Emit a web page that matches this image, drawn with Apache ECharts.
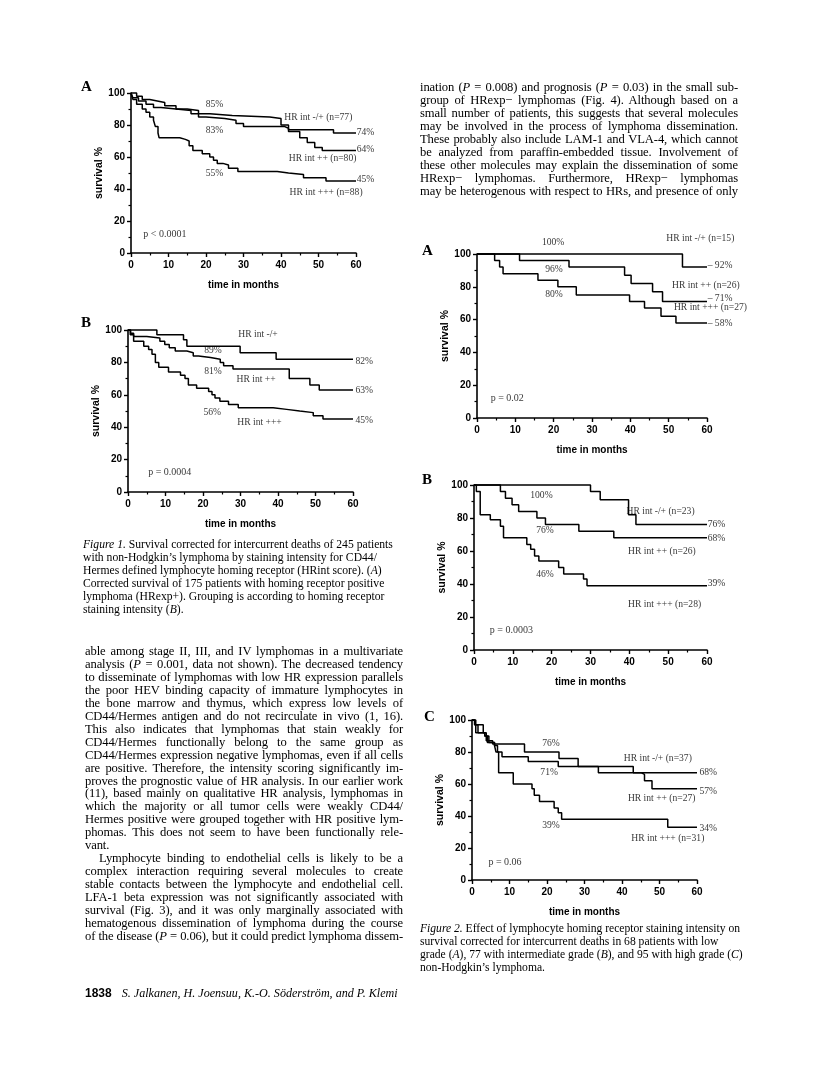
<!DOCTYPE html>
<html>
<head>
<meta charset="utf-8">
<script src="https://cdn.jsdelivr.net/npm/echarts@6/dist/echarts.min.js"></script>
<style>
html, body { margin: 0; padding: 0; background: #fff; }
#page { position: relative; width: 816px; height: 1078px; overflow: hidden; }
#chart { position: absolute; left: 0; top: 0; width: 816px; height: 1078px; }
.ln { position: absolute; height: 14px; line-height: 14px; font-family: "Liberation Serif", "Times New Roman", serif; color: #000; white-space: normal; overflow: visible; }
.j { text-align: justify; text-align-last: justify; }
.l { text-align: left; text-align-last: left; white-space: nowrap; }
.letter { position: absolute; font-family: "Liberation Serif", serif; font-weight: bold; font-size: 15px; color: #000; }
.foot { position: absolute; top: 986px; left: 85px; font-size: 12px; color: #000; white-space: nowrap; }
</style>
</head>
<body>
<div id="page">
  <div id="chart"></div>
</div>
<script>
// survival curves, [month, survival %] at each step
var f1aNeg  = [[0,100],[1.5,98],[3,96],[5,95],[7,94],[9,92],[12,90],[15,89],[18,87],[21,86],[27,85],[37,84],[40,80],[42,77],[54,75],[60,75]];
var f1aMid  = [[0,100],[0.5,97],[2,95],[4,93],[6,91],[8,90],[12,89],[16,87],[18,85],[20,84],[25,83],[28,81],[30,79],[41,78],[42,76],[45,72],[47,69],[49,66],[51,64],[60,64]];
var f1aHigh = [[0,100],[0.5,96],[1.5,93],[3,90],[4,88],[5,85],[6,83],[6.5,79],[7.2,75],[7.5,72],[13,71],[14.5,70],[15.5,67],[16.5,64],[19,62],[21,60],[22,58],[23,56],[24.5,55],[26,53],[28.5,51],[39,50],[42,49],[46,47],[52,45],[60,45]];

var f1bNeg  = [[0,100],[7.7,97],[14.8,94],[15.7,90],[29.9,86],[39.5,82],[60,82]];
var f1bMid  = [[0,100],[0.7,98],[1.5,96],[5,95],[8.5,93],[9.8,91],[11,89],[12.6,87],[15.7,86],[17.4,84],[18.8,83],[22,82],[24.6,80],[25.5,78],[28,76],[43,70],[48.5,66],[51,63],[60,63]];
var f1bHigh = [[0,100],[0.6,97],[1.5,93],[4.2,90],[5.5,88],[6.4,85],[7.3,80],[8.2,77],[10.8,74],[14,72],[15.2,70],[16.1,66],[18.3,64],[21.5,62],[22.4,60],[23.2,58],[24.5,56],[26.8,54],[29.4,52],[38.7,51],[42.3,50],[45.8,49],[49.4,47],[52,45],[60,45]];

var f2aNeg  = [[0,100],[53.6,92],[60,92]];
var f2aMid  = [[0,100],[11.1,96],[24,92],[38.5,87],[40.2,82],[45.8,77],[48.4,71],[60,71]];
var f2aHigh = [[0,100],[4.6,96],[5.9,92],[6.8,88],[15.9,84],[21.1,80],[25.9,75],[39.8,71],[43.7,67],[48,62],[51.9,58],[60,58]];

var f2bNeg  = [[0,100],[30,96],[32.5,91],[39.8,82],[41.7,76],[60,76]];
var f2bMid  = [[0,100],[6.8,96],[8.1,92],[9.8,88],[11.5,84],[16.2,80],[18.4,76],[27,72],[36,68],[60,68]];
var f2bHigh = [[0,100],[0.6,96],[1.6,82],[4.2,79],[6.8,75],[7.6,68],[13.6,64],[14.6,61],[15.6,57],[16.7,54],[21.8,50],[23.1,46],[28.2,43],[29.1,39],[60,39]];

var f2cNeg  = [[0,100],[0.7,97],[3,92],[3.8,87],[5.5,85],[14,80],[23.2,76],[28.3,71],[43,67],[60,67]];
var f2cMid  = [[0,100],[1,92],[3.4,90],[4.5,86],[6,84],[6.8,80],[8,77],[15,74],[23,71],[33.7,67],[45.2,66],[46,62],[48,57],[60,57]];
var f2cHigh = [[0,100],[0.7,97],[1.6,92],[3.4,90],[4.1,86],[6,84],[6.4,80],[7.1,67],[11,60],[16,57],[16.6,53],[18,49],[21.9,45],[23,42],[23.9,38],[52.2,33],[60,33]];

var yTicks = [0, 20, 40, 60, 80, 100];
var xTicks = [0, 10, 20, 30, 40, 50, 60];

// panels: grid box in px, curves, and text notes placed in data units
var panels = [
  { grid: {left:131, top:93, width:225, height:160}, curves: [f1aNeg, f1aMid, f1aHigh],
    notes: [['85%',22.4,92.7,'center'],['HR int -/+ (n=77)',41,84.3,'left'],['74%',60.3,75.3,'left'],
            ['83%',22.4,76,'center'],['HR int ++ (n=80)',42.2,58.6,'left'],['64%',60.3,64.4,'left'],
            ['55%',22.4,49.2,'center'],['45%',60.3,45.6,'left'],['HR int +++ (n=88)',42.4,37.7,'left'],
            ['p < 0.0001',3.4,11.1,'left']] },
  { grid: {left:128, top:330, width:225, height:162}, curves: [f1bNeg, f1bMid, f1bHigh],
    notes: [['HR int -/+',34.8,96.9,'center'],['89%',22.8,87.2,'center'],['82%',60.8,80.5,'left'],
            ['81%',22.8,74.3,'center'],['HR int ++',34.3,69.1,'center'],['63%',60.8,62.3,'left'],
            ['56%',22.6,49,'center'],['HR int +++',35.2,42.8,'center'],['45%',60.8,44,'left'],
            ['p = 0.0004',5.5,11.5,'left']] },
  { grid: {left:477, top:254, width:230, height:164}, curves: [f2aNeg, f2aMid, f2aHigh],
    notes: [['100%',20,106.7,'center'],['HR int -/+ (n=15)',49.5,109.4,'left'],['– 92%',60.3,92.4,'left'],
            ['96%',20.2,90.4,'center'],['HR int ++ (n=26)',51,80.8,'left'],['80%',20.2,75.1,'center'],
            ['– 71%',60.3,72.6,'left'],['HR int +++ (n=27)',51.5,66.9,'left'],['– 58%',60.3,57.3,'left'],
            ['p = 0.02',3.7,11.8,'left']] },
  { grid: {left:474, top:485, width:233, height:165}, curves: [f2bNeg, f2bMid, f2bHigh],
    notes: [['100%',17.5,93.5,'center'],['HR int -/+ (n=23)',39.4,83.6,'left'],['76%',60.3,76,'left'],
            ['76%',18.4,71.9,'center'],['68%',60.3,67.5,'left'],['HR int ++ (n=26)',39.8,59.4,'left'],
            ['46%',18.4,45.7,'center'],['39%',60.3,40,'left'],['HR int +++ (n=28)',39.8,27.5,'left'],
            ['p = 0.0003',4.2,11.3,'left']] },
  { grid: {left:472, top:720, width:225, height:160}, curves: [f2cNeg, f2cMid, f2cHigh],
    notes: [['76%',21.2,84.9,'center'],['HR int -/+ (n=37)',40.6,75.6,'left'],['68%',60.8,66.6,'left'],
            ['71%',20.7,66.6,'center'],['57%',60.8,55,'left'],['HR int ++ (n=27)',41.7,50.8,'left'],
            ['39%',21.2,34,'center'],['34%',60.8,31.9,'left'],['HR int +++ (n=31)',42.6,25.6,'left'],
            ['p = 0.06',4.5,10.9,'left']] }
];

var ink = '#000';
var sans = '"Liberation Sans", Arial, sans-serif';
var serif = '"Liberation Serif", "Times New Roman", serif';

var grids = [], xAxes = [], yAxes = [], series = [];
panels.forEach(function (p, i) {
  grids.push(p.grid);
  xAxes.push({
    gridIndex: i, type: 'value', min: xTicks[0], max: xTicks[xTicks.length - 1], interval: 10,
    axisLine: { onZero: false, lineStyle: { color: ink, width: 1.6 } },
    axisTick: { length: 4, lineStyle: { color: ink, width: 1.4 } },
    minorTick: { show: true, splitNumber: 2, length: 2.5, lineStyle: { color: ink, width: 1.2 } },
    splitLine: { show: false },
    axisLabel: { color: ink, fontFamily: sans, fontWeight: 'bold', fontSize: 10, margin: 7 },
    name: 'time in months', nameLocation: 'middle', nameGap: 27,
    nameTextStyle: { color: ink, fontFamily: sans, fontWeight: 'bold', fontSize: 10 }
  });
  yAxes.push({
    gridIndex: i, type: 'value', min: yTicks[0], max: yTicks[yTicks.length - 1], interval: 20,
    axisLine: { show: true, onZero: false, lineStyle: { color: ink, width: 1.6 } },
    axisTick: { show: true, length: 4, lineStyle: { color: ink, width: 1.4 } },
    minorTick: { show: true, splitNumber: 2, length: 2.5, lineStyle: { color: ink, width: 1.2 } },
    splitLine: { show: false },
    axisLabel: { color: ink, fontFamily: sans, fontWeight: 'bold', fontSize: 10, margin: 6 },
    name: 'survival %', nameLocation: 'middle', nameGap: 24, nameRotate: 90,
    nameTextStyle: { color: ink, fontFamily: sans, fontWeight: 'bold', fontSize: 10.5 }
  });
  p.curves.forEach(function (c) {
    series.push({
      type: 'line', xAxisIndex: i, yAxisIndex: i, data: c, step: 'end',
      symbol: 'none', silent: true, clip: false,
      lineStyle: { color: ink, width: 1.5 }
    });
  });
  series.push({
    type: 'scatter', xAxisIndex: i, yAxisIndex: i, symbolSize: 1, clip: false, silent: true,
    itemStyle: { color: 'rgba(0,0,0,0)' },
    data: p.notes.map(function (n) {
      return {
        value: [n[1], n[2]],
        label: {
          show: true, formatter: n[0], position: [0, 0], align: n[3], verticalAlign: 'middle',
          color: ink, fontFamily: serif, fontSize: n[0].charAt(0) === 'p' ? 10 : 9.6
        }
      };
    })
  });
});

var myChart = echarts.init(document.getElementById('chart'), null, { renderer: 'canvas' });
myChart.setOption({
  animation: false,
  backgroundColor: '#fff',
  grid: grids,
  xAxis: xAxes,
  yAxis: yAxes,
  series: series
});

// page text
var page = document.getElementById('page');
function addLines(lines, left, width, first, pitch, size, spacing) {
  lines.forEach(function (ln, k) {
    var d = document.createElement('div');
    var txt = ln, cls = 'j', indent = 0;
    if (typeof ln !== 'string') { txt = ln.t; cls = ln.last ? 'l' : 'j'; indent = ln.indent || 0; }
    d.className = 'ln ' + cls;
    d.style.left = (left + indent) + 'px';
    d.style.width = (width - indent) + 'px';
    d.style.top = (first + k * pitch - 7) + 'px';
    d.style.fontSize = size + 'px';
    if (spacing) d.style.letterSpacing = spacing + 'px';
    d.innerHTML = txt;
    page.appendChild(d);
  });
}
function addLetter(ch, x, y) {
  var d = document.createElement('div');
  d.className = 'letter';
  d.style.left = x + 'px';
  d.style.top = y + 'px';
  d.textContent = ch;
  page.appendChild(d);
}

addLines([
  'ination (<i>P</i> = 0.008) and prognosis (<i>P</i> = 0.03) in the small sub-',
  'group of HRexp− lymphomas (Fig. 4). Although based on a',
  'small number of patients, this suggests that several molecules',
  'may be involved in the process of lymphoma dissemination.',
  'These probably also include LAM-1 and VLA-4, which cannot',
  'be analyzed from paraffin-embedded tissue. Involvement of',
  'these other molecules may explain the dissemination of some',
  'HRexp− lymphomas. Furthermore, HRexp− lymphomas',
  'may be heterogenous with respect to HRs, and presence of only'
], 420, 318, 87, 13, 12.6, -0.12);

addLines([
  {t: '<i>Figure 1.</i> Survival corrected for intercurrent deaths of 245 patients', last: true},
  {t: 'with non-Hodgkin’s lymphoma by staining intensity for CD44/', last: true},
  {t: 'Hermes defined lymphocyte homing receptor (HRint score). (<i>A</i>)', last: true},
  {t: 'Corrected survival of 175 patients with homing receptor positive', last: true},
  {t: 'lymphoma (HRexp+). Grouping is according to homing receptor', last: true},
  {t: 'staining intensity (<i>B</i>).', last: true}
], 83, 320, 545, 13, 11.65);

addLines([
  'able among stage II, III, and IV lymphomas in a multivariate',
  'analysis (<i>P</i> = 0.001, data not shown). The decreased tendency',
  'to disseminate of lymphomas with low HR expression parallels',
  'the poor HEV binding capacity of immature lymphocytes in',
  'the bone marrow and thymus, which express low levels of',
  'CD44/Hermes antigen and do not recirculate in vivo (1, 16).',
  'This also indicates that lymphomas that stain weakly for',
  'CD44/Hermes functionally belong to the same group as',
  'CD44/Hermes expression negative lymphomas, even if all cells',
  'are positive. Therefore, the intensity scoring significantly im-',
  'proves the prognostic value of HR analysis. In our earlier work',
  '(11), based mainly on qualitative HR analysis, lymphomas in',
  'which the majority or all tumor cells were weakly CD44/',
  'Hermes positive were grouped together with HR positive lym-',
  'phomas. This does not seem to have been functionally rele-',
  {t: 'vant.', last: true},
  {t: 'Lymphocyte binding to endothelial cells is likely to be a', indent: 14},
  'complex interaction requiring several molecules to create',
  'stable contacts between the lymphocyte and endothelial cell.',
  'LFA-1 beta expression was not significantly associated with',
  'survival (Fig. 3), and it was only marginally associated with',
  'hematogenous dissemination of lymphoma during the course',
  'of the disease (<i>P</i> = 0.06), but it could predict lymphoma dissem-'
], 85, 318, 651, 12.95, 12.6, -0.12);

addLines([
  {t: '<i>Figure 2.</i> Effect of lymphocyte homing receptor staining intensity on', last: true},
  {t: 'survival corrected for intercurrent deaths in 68 patients with low', last: true},
  {t: 'grade (<i>A</i>), 77 with intermediate grade (<i>B</i>), and 95 with high grade (<i>C</i>)', last: true},
  {t: 'non-Hodgkin’s lymphoma.', last: true}
], 420, 322, 929, 13, 11.6);

var foot = document.createElement('div');
foot.className = 'foot';
foot.innerHTML = '<span style="font-family:' + sans.replace(/"/g, "'") + ';font-weight:bold;">1838</span>' +
  '<span style="font-family:' + serif.replace(/"/g, "'") + ';font-style:italic;margin-left:10px;font-size:12.1px;">S. Jalkanen, H. Joensuu, K.-O. Söderström, and P. Klemi</span>';
page.appendChild(foot);

addLetter('A', 81, 78);
addLetter('B', 81, 314);
addLetter('A', 422, 242);
addLetter('B', 422, 471);
addLetter('C', 424, 708);
</script>
</body>
</html>
